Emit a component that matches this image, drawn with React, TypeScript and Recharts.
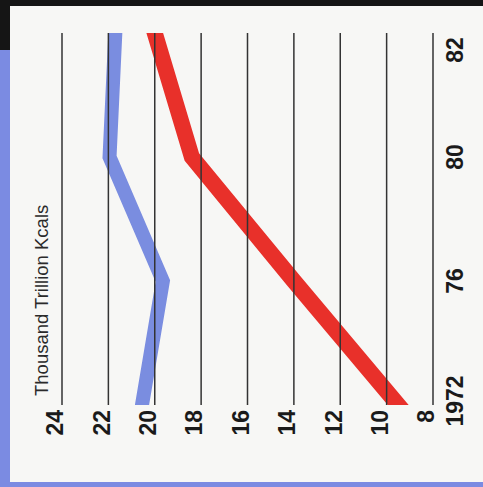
import React from "react"
import { LineChart, Line, XAxis, YAxis, ReferenceLine } from "recharts"

// Chart is laid out upright and then turned a quarter turn counter-clockwise,
// like the printed page it comes from (years run up the right-hand side).
const years = ["1972", "76", "80", "82"]
const redSeries = [9.5, 14.0, 18.4, 20.0]
const blueSeries = [20.55, 19.65, 21.95, 21.7]
const valueTicks = [8, 10, 12, 14, 16, 18, 20, 22, 24]

const rows = years.map((year, i) => ({ year, red: redSeries[i], blue: blueSeries[i] }))

const PAPER = "#f7f7f5"
const INK = "#1a1a1a"
const FRAME_BLUE = "#7b8be2"
const LINE_BLUE = "#7a8de0"
const LINE_RED = "#e8302a"
const FONT = "'Liberation Sans', Arial, Helvetica, sans-serif"

// the "82" label sits a bit further in than its point in the print
const YEAR_LABEL_SHIFT: Record<string, number> = { "1972": 4, "82": -17 }

function YearTick(props: any) {
  const { x, y, payload } = props
  const shift = YEAR_LABEL_SHIFT[payload.value] ?? 0
  return (
    <text x={x + shift} y={y + 30} textAnchor="middle" fill={INK} fontFamily={FONT} fontSize={23} fontWeight={700}>
      {payload.value}
    </text>
  )
}

function ValueTick(props: any) {
  const { x, y, payload } = props
  return (
    <text x={x} y={y - 7} dy="0.36em" textAnchor="end" fill={INK} fontFamily={FONT} fontSize={23} fontWeight={700}>
      {payload.value}
    </text>
  )
}

export default function App() {
  return (
    <div style={{ position: "fixed", left: 0, top: 0, width: 483, height: 487, background: PAPER, overflow: "hidden" }}>
      <div style={{ position: "absolute", left: 0, top: 0, width: 483, height: 6, background: "#151515" }} />
      <div style={{ position: "absolute", left: 0, top: 0, width: 10, height: 50, background: "#151515" }} />
      <div style={{ position: "absolute", left: 0, top: 50, width: 10, height: 437, background: FRAME_BLUE }} />
      <div style={{ position: "absolute", left: 0, top: 482, width: 483, height: 5, background: FRAME_BLUE }} />

      <div
        style={{
          position: "absolute",
          left: 0,
          top: 0,
          width: 487,
          height: 483,
          transformOrigin: "0 0",
          transform: "translate(0px, 487px) rotate(-90deg)",
        }}
      >
        <div
          style={{
            position: "absolute",
            left: 91,
            top: 33,
            fontFamily: FONT,
            fontSize: 18.5,
            lineHeight: "18px",
            color: "#2a2a2a",
            whiteSpace: "nowrap",
          }}
        >
          Thousand Trillion Kcals
        </div>
        <LineChart width={487} height={483} data={rows} margin={{ top: 62, right: 33, bottom: 10, left: 0 }}>
          <XAxis
            dataKey="year"
            height={40}
            allowDataOverflow
            axisLine={false}
            tickLine={false}
            tickSize={0}
            tickMargin={0}
            interval={0}
            tick={<YearTick />}
          />
          <YAxis
            type="number"
            domain={[8, 24]}
            ticks={valueTicks}
            width={82}
            allowDataOverflow
            axisLine={false}
            tickLine={false}
            tickSize={3}
            tickMargin={2}
            tick={<ValueTick />}
          />
          <Line
            dataKey="blue"
            type="linear"
            stroke={LINE_BLUE}
            strokeWidth={14}
            strokeLinecap="square"
            strokeLinejoin="miter"
            dot={false}
            activeDot={false}
            isAnimationActive={false}
          />
          <Line
            dataKey="red"
            type="linear"
            stroke={LINE_RED}
            strokeWidth={16}
            strokeLinecap="square"
            strokeLinejoin="miter"
            dot={false}
            activeDot={false}
            isAnimationActive={false}
          />
          {valueTicks.map((v) => (
            <ReferenceLine key={v} y={v} stroke="#333" strokeWidth={1.5} />
          ))}
        </LineChart>
      </div>
    </div>
  )
}
